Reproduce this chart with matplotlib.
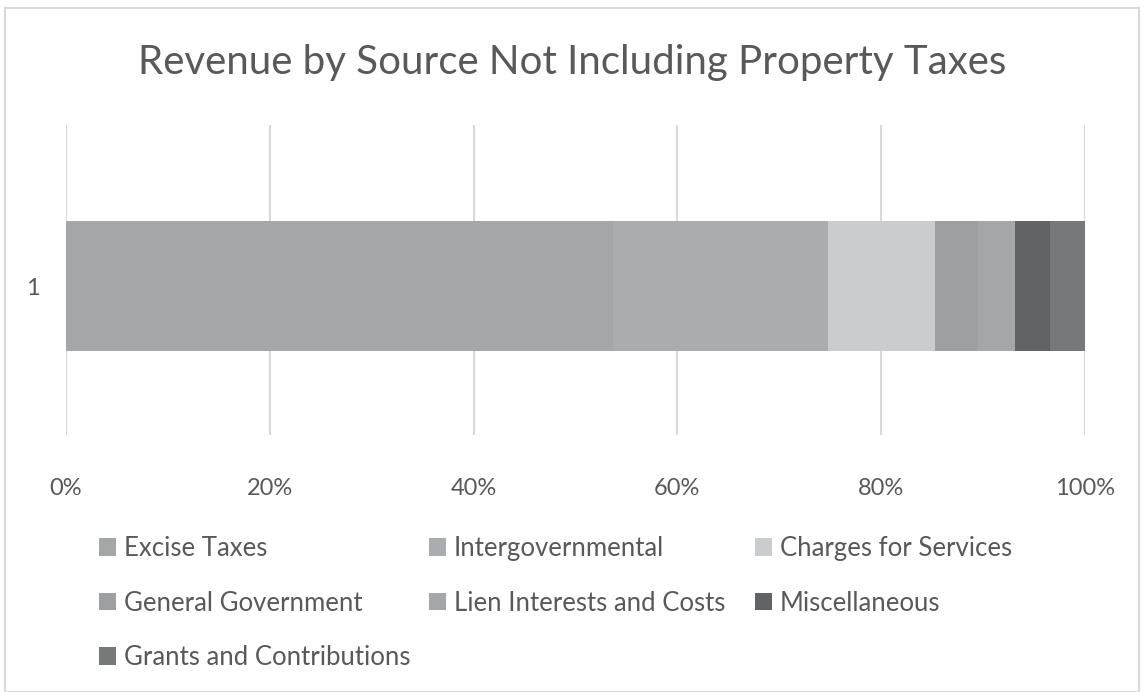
import matplotlib.pyplot as plt
from matplotlib.patches import Rectangle

plt.rcParams['font.family'] = ['Lato', 'DejaVu Sans']

# share of revenue by source (%)
sources = ['Excise Taxes', 'Intergovernmental', 'Charges for Services',
           'General Government', 'Lien Interests and Costs', 'Miscellaneous',
           'Grants and Contributions']
shares = [53.7, 21.1, 10.5, 4.2, 3.6, 3.5, 3.4]
colors = ['#a5a6a8', '#abacaf', '#cbccce', '#9e9fa1', '#a5a6a8', '#626365', '#77787a']
category = ['1']

text_color = '#595959'

fig = plt.figure(figsize=(11.44, 6.92), dpi=100)
ax = fig.add_axes([66 / 1144, 1 - 435 / 692, (1085 - 66) / 1144, (435 - 125) / 692])

total = sum(shares)
left = 0.0
handles = []
for name, val, col in zip(sources, shares, colors):
    b = ax.barh(category, val / total, left=left, height=0.42, color=col,
                label=name, zorder=3)
    handles.append(b)
    left += val / total

ax.set_xlim(0, 1)
ax.set_ylim(-0.48, 0.52)
ax.set_xticks([0, 0.2, 0.4, 0.6, 0.8, 1.0])
ax.set_xticklabels(['0%', '20%', '40%', '60%', '80%', '100%'])
ax.grid(axis='x', color='#d9d9d9', linewidth=1.5, zorder=0)
for s in ax.spines.values():
    s.set_visible(False)
ax.tick_params(length=0, labelsize=17, colors=text_color)
ax.tick_params(axis='x', pad=31)
ax.tick_params(axis='y', pad=19)

fig.suptitle('Revenue by Source Not Including Property Taxes', y=0.936,
             fontsize=29, color=text_color)

# legend laid out row by row (3 columns), one legend per column
columns = [[0, 3, 6], [1, 4], [2, 5]]
col_x = [99, 429, 755]
for idx, x in zip(columns, col_x):
    leg = fig.legend([handles[i] for i in idx], [sources[i] for i in idx],
                     loc='upper left', bbox_to_anchor=(x / 1144, 1 - 536 / 692),
                     frameon=False, fontsize=18.5, labelcolor=text_color,
                     handlelength=0.66, handleheight=0.66, handletextpad=0.3,
                     labelspacing=1.15, borderpad=0, borderaxespad=0)

fig.add_artist(Rectangle((5 / 1144, 0), 1134 / 1144, 1 - 8 / 692,
                         transform=fig.transFigure, fill=False,
                         edgecolor='#d9d9d9', linewidth=1.5))

fig.savefig('out.png', dpi=100, facecolor='white')
